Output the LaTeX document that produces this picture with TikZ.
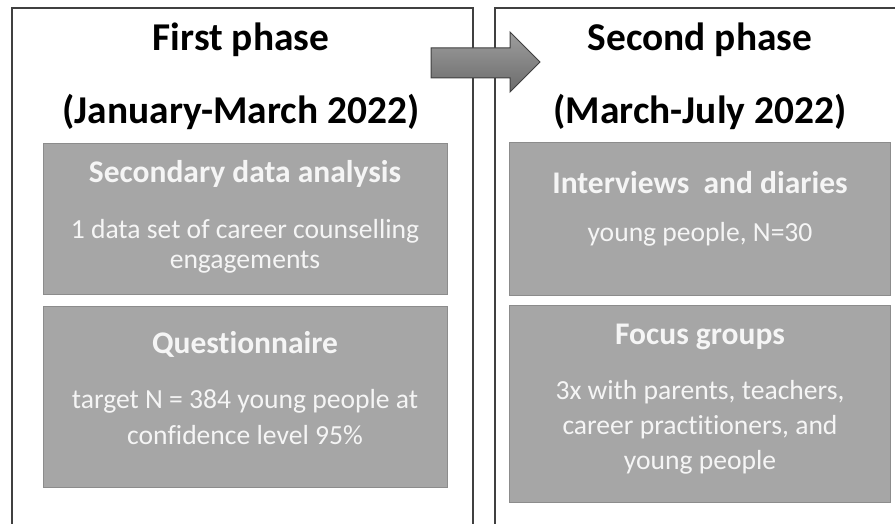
\documentclass[tikz,border=0pt]{standalone}
\usepackage{fontspec}
\setmainfont{Carlito}[Ligatures=NoCommon]
\newcommand\nolig{\kern0pt{}}
\begin{document}
\begin{tikzpicture}[x=1pt,y=-1pt,
  frame/.style={draw=black!75,line width=1.5pt},
  graybox/.style={draw=black!45,fill=black!35,line width=1pt,rectangle,inner sep=0pt},
  titletext/.style={font=\bfseries\fontsize{39.4}{47}\selectfont,text=black,anchor=base,inner sep=0pt},
  headtext/.style={font=\bfseries\fontsize{31.5}{38}\selectfont,text=white!96!black,anchor=base,inner sep=0pt},
  bodytext/.style={font=\fontsize{27.6}{33}\selectfont,text=white!96!black,anchor=base,inner sep=0pt},
  arrowshape/.style={draw=black!75,line width=1pt,top color=black!38,bottom color=black!58}
]
\useasboundingbox (0,0) rectangle (895,524);
\clip (0,0) rectangle (895,524);
% phase frames
\coordinate (l0) at (12,530);
\coordinate (l1) at (12,8);
\coordinate (l2) at (473,8);
\coordinate (l3) at (473,530);
\coordinate (r0) at (495,530);
\coordinate (r1) at (495,8);
\coordinate (r2) at (910,8);
\draw[frame] (l0) -- (l1) -- (l2) -- (l3);
\draw[frame] (r0) -- (r1) -- (r2);
% titles
\node[titletext] (t1) at (241,51) {First phase};
\node[titletext] (t2) at (241,124) {(January-March 2022)};
\node[titletext] (t3) at (700,51) {Second phase};
\node[titletext] (t4) at (700,124) {(March-July 2022)};
% left boxes
\node[graybox,minimum width=404pt,minimum height=151pt,anchor=north west] (b1) at (43,143) {};
\node[headtext] (b1h) at (245,183) {Secondary data analysis};
\node[bodytext] (b1a) at (245,238) {1 data set of career counselling};
\node[bodytext] (b1b) at (245,269) {engagements};
\node[graybox,minimum width=404pt,minimum height=181pt,anchor=north west] (b2) at (43,306) {};
\node[headtext] (b2h) at (245,353) {Quest\nolig ionnaire};
\node[bodytext] (b2a) at (245,408) {target N = 384 young people at};
\node[bodytext] (b2b) at (245,444) {conf\nolig idence level 95\%};
% right boxes
\node[graybox,minimum width=381pt,minimum height=153pt,anchor=north west] (b3) at (509,142) {};
\node[headtext] (b3h) at (700,194) {Interviews\ \ and diaries};
\node[bodytext] (b3a) at (700,241) {young people, N=30};
\node[graybox,minimum width=381pt,minimum height=197pt,anchor=north west] (b4) at (509,305) {};
\node[headtext] (b4h) at (700,344) {Focus groups};
\node[bodytext] (b4a) at (700,399) {3x with parents, teachers,};
\node[bodytext] (b4b) at (700,434) {career pract\nolig it\nolig ioners, and};
\node[bodytext] (b4c) at (700,469) {young people};
% arrow
\coordinate (a1) at (431,48);
\coordinate (a2) at (510,48);
\coordinate (a3) at (510,32);
\coordinate (a4) at (540,62);
\coordinate (a5) at (510,92);
\coordinate (a6) at (510,78);
\coordinate (a7) at (431,78);
\draw[arrowshape] (a1) -- (a2) -- (a3) -- (a4) -- (a5) -- (a6) -- (a7) -- cycle;
\end{tikzpicture}
\end{document}
